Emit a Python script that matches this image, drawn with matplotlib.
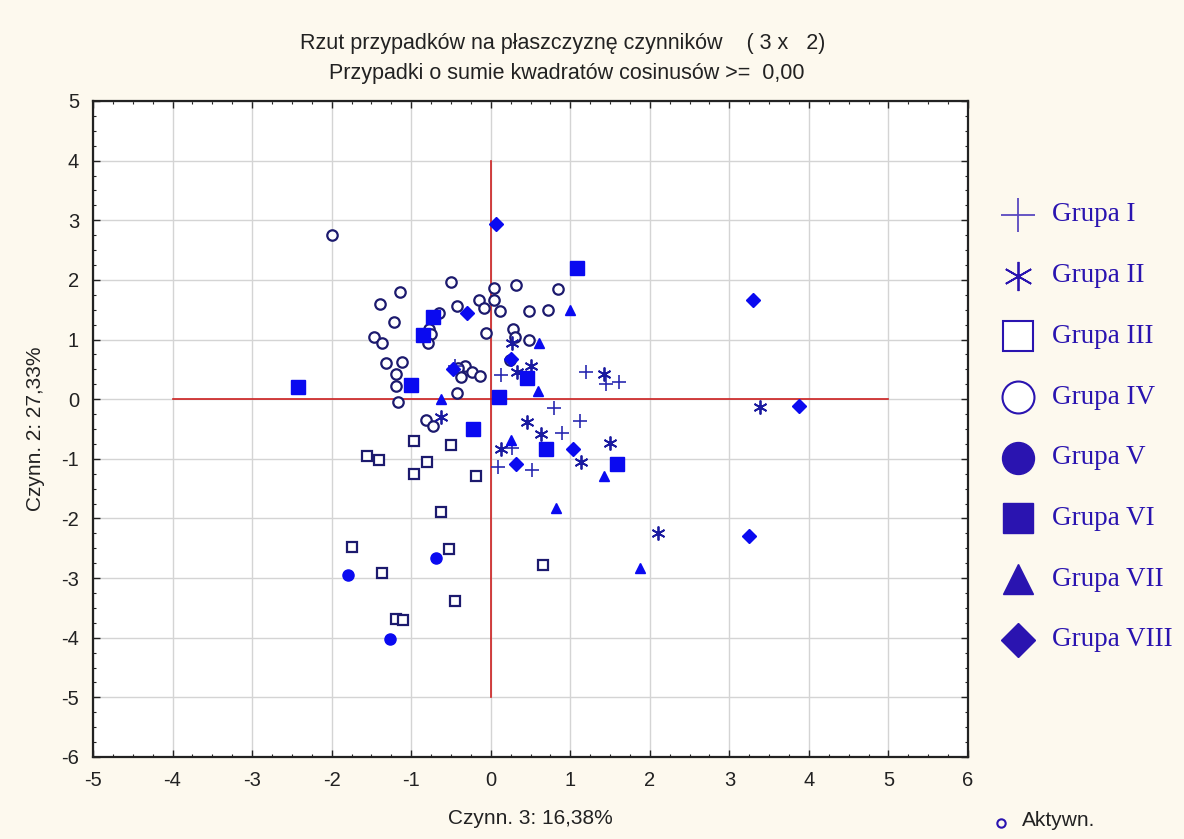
import matplotlib
matplotlib.use("Agg")
import matplotlib.pyplot as plt
from matplotlib.ticker import MultipleLocator

plt.rcParams['font.family'] = ['Liberation Sans', 'DejaVu Sans']
plt.rcParams['axes.unicode_minus'] = False

# factor scores per group (Czynn. 3, Czynn. 2)
g1_x = [-0.45, 0.13, 1.20, 1.45, 1.61, 0.79, 1.12, 0.89, 0.27, 0.09, 0.52]
g1_y = [0.55, 0.41, 0.46, 0.26, 0.28, -0.14, -0.37, -0.56, -0.82, -1.13, -1.19]

g2_x = [0.27, 0.33, 0.50, 1.43, -0.62, 0.45, 0.63, 0.13, 1.50, 1.13, 2.10, 3.39]
g2_y = [0.94, 0.45, 0.56, 0.42, -0.30, -0.39, -0.59, -0.84, -0.74, -1.05, -2.24, -0.13]

g3_x = [-0.96, -0.50, -1.55, -1.41, -0.80, -0.96, -0.19, -0.63, -1.75, -0.52, -1.37, 0.66, -0.45, -1.19, -1.10]
g3_y = [-0.70, -0.77, -0.96, -1.02, -1.05, -1.26, -1.29, -1.89, -2.48, -2.51, -2.91, -2.78, -3.39, -3.68, -3.71]

g4_x = [-2.00, -0.50, -1.14, -1.39, -0.43, -0.15, 0.04, 0.04, -0.08, -0.65, -1.22, -0.78, -0.75, -0.79,
        -0.06, -1.47, -1.37, -1.32, -1.12, -1.19, -1.19, -1.17, -0.43, -0.32, -0.41, -0.37, -0.23, -0.14,
        -0.82, -0.72, 0.32, 0.84, 0.12, 0.48, 0.72, 0.28, 0.30, 0.48, 0.24]
g4_y = [2.76, 1.97, 1.80, 1.59, 1.56, 1.66, 1.86, 1.67, 1.53, 1.44, 1.29, 1.18, 1.10, 0.95,
        1.11, 1.05, 0.95, 0.60, 0.63, 0.42, 0.22, -0.05, 0.10, 0.55, 0.53, 0.37, 0.45, 0.39,
        -0.35, -0.45, 1.92, 1.85, 1.48, 1.48, 1.50, 1.18, 1.04, 1.00, 0.65]

g5_x = [-0.69, -1.80, -1.27]
g5_y = [-2.67, -2.94, -4.02]

g6_x = [-0.73, -0.85, -1.00, -2.42, 0.11, 1.09, 0.45, -0.22, 0.70, 1.59]
g6_y = [1.37, 1.07, 0.24, 0.20, 0.03, 2.20, 0.36, -0.50, -0.83, -1.09]

g7_x = [-0.63, 1.00, 0.61, 0.59, 0.25, 1.43, 0.82, 1.88]
g7_y = [0.00, 1.50, 0.95, 0.14, -0.69, -1.29, -1.82, -2.83]

g8_x = [0.07, -0.30, -0.48, 0.25, 1.04, 0.32, 3.30, 3.88, 3.25]
g8_y = [2.94, 1.45, 0.51, 0.68, -0.83, -1.09, 1.66, -0.11, -2.29]

group_names = ['Grupa I', 'Grupa II', 'Grupa III', 'Grupa IV',
               'Grupa V', 'Grupa VI', 'Grupa VII', 'Grupa VIII']

NAVY = '#1c1a6e'
BLUE = '#0a0af0'
LEG = '#2a14b0'
BG = '#fdf9ee'
TXT = '#222222'
ASTER = (6, 2, 0)

# marker, size, face, edge, edge width
styles = [
    ('+', 10, NAVY, '#2a2ab0', 1.2),
    (ASTER, 10, '#1a1aa0', '#1a1aa0', 1.3),
    ('s', 6.5, 'white', NAVY, 1.6),
    ('o', 7.5, 'white', NAVY, 1.6),
    ('o', 8, BLUE, BLUE, 1.0),
    ('s', 10, BLUE, BLUE, 1.0),
    ('^', 7.5, BLUE, BLUE, 1.0),
    ('D', 7, BLUE, BLUE, 1.0),
]
data = [(g1_x, g1_y), (g2_x, g2_y), (g3_x, g3_y), (g4_x, g4_y),
        (g5_x, g5_y), (g6_x, g6_y), (g7_x, g7_y), (g8_x, g8_y)]

fig = plt.figure(figsize=(11.84, 8.39), dpi=100, facecolor=BG)
ax = fig.add_axes([93 / 1184, 1 - 757 / 839, 875 / 1184, 656 / 839])
ax.set_facecolor('white')

ax.set_xlim(-5, 6)
ax.set_ylim(-6, 5)
ax.xaxis.set_major_locator(MultipleLocator(1))
ax.yaxis.set_major_locator(MultipleLocator(1))
ax.xaxis.set_minor_locator(MultipleLocator(0.25))
ax.yaxis.set_minor_locator(MultipleLocator(0.25))
ax.grid(True, which='major', color='#d4d4d4', lw=1.0)
ax.set_axisbelow(True)
ax.tick_params(which='both', direction='in', top=True, right=True,
               colors=TXT, labelcolor=TXT, labelsize=14.5)
ax.tick_params(which='major', length=5, width=1.0, pad=10)
ax.tick_params(which='minor', length=2.5, width=0.8)
for s in ax.spines.values():
    s.set_color(TXT)
    s.set_linewidth(1.6)

# red cross through the origin
ax.plot([-4, 5], [0, 0], color='#cc2020', lw=1.2, zorder=1.5)
ax.plot([0, 0], [-5, 4], color='#cc2020', lw=1.2, zorder=1.5)

order = [3, 2, 0, 1, 4, 5, 6, 7]
for i in order:
    m, ms, fc, ec, mew = styles[i]
    xs, ys = data[i]
    if m in ('+', ASTER):
        ax.plot(xs, ys, ls='none', marker=m, ms=ms, color=fc, mec=ec, mew=mew, zorder=3)
    else:
        ax.plot(xs, ys, ls='none', marker=m, ms=ms, mfc=fc, mec=ec, mew=mew, zorder=3)

ax.set_xlabel('Czynn. 3: 16,38%', fontsize=15, color=TXT, labelpad=14)
ax.set_ylabel('Czynn. 2: 27,33%', fontsize=15, color=TXT, labelpad=12)

fig.text(563 / 1184, 1 - 43 / 839, 'Rzut przypadków na płaszczyznę czynników    ( 3 x   2)',
         ha='center', va='center', fontsize=15.5, color=TXT)
fig.text(567 / 1184, 1 - 74 / 839, 'Przypadki o sumie kwadratów cosinusów >=  0,00',
         ha='center', va='center', fontsize=15.5, color=TXT)

# group legend on the right
lax = fig.add_axes([975 / 1184, 1 - 670 / 839, 209 / 1184, 490 / 839])
lax.set_xlim(0, 209)
lax.set_ylim(670, 180)
lax.axis('off')
leg_styles = [
    ('+', 25, '#5a48c0', 1.3),
    (ASTER, 21, LEG, 1.3),
    ('s', 21, 'white', 1.5),
    ('o', 23, 'white', 1.5),
    ('o', 23, LEG, 1.0),
    ('s', 21, LEG, 1.0),
    ('^', 22, LEG, 1.0),
    ('D', 17, LEG, 1.0),
]
for k, name in enumerate(group_names):
    yk = 215 + k * 60.7
    m, ms, fc, mew = leg_styles[k]
    if m in ('+', ASTER):
        lax.plot([43], [yk], marker=m, ms=ms, color=fc, mew=mew)
    else:
        lax.plot([43], [yk], marker=m, ms=ms, mfc=fc, mec=LEG, mew=mew)
    lax.text(77, yk, name, fontsize=19.5, color=LEG, va='center', ha='left',
             family=['Liberation Serif', 'DejaVu Serif'])

fig.add_artist(plt.Line2D([1001 / 1184], [1 - 823 / 839], marker='o', ms=6, mfc='none',
                          mec=LEG, mew=1.5, transform=fig.transFigure))
fig.text(1022 / 1184, 1 - 820 / 839, 'Aktywn.', fontsize=15, color=TXT, ha='left', va='center')

fig.savefig('out.png', dpi=100, facecolor=BG)
